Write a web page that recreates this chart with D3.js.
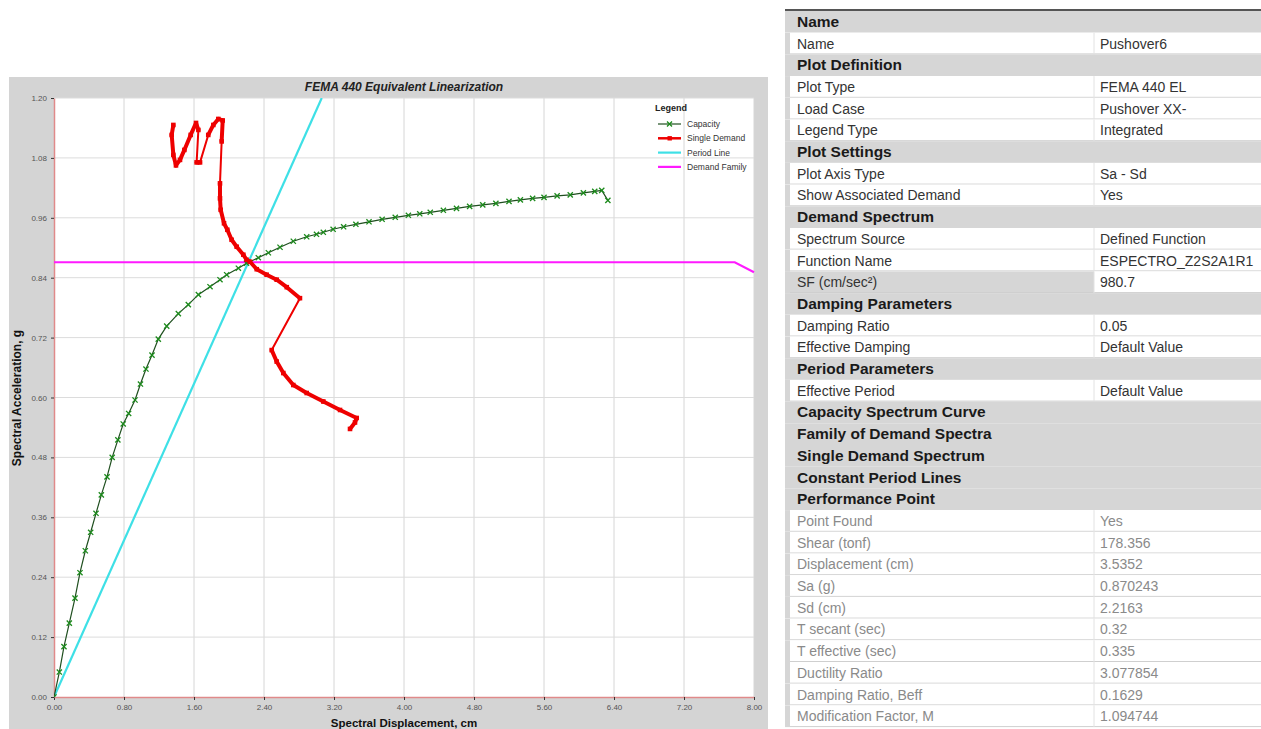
<!DOCTYPE html>
<html><head><meta charset="utf-8">
<script src="https://cdn.jsdelivr.net/npm/d3@7"></script>
<style>
html,body{margin:0;padding:0;background:#fff;}
svg{display:block;}
</style></head>
<body>
<svg id="c" width="1261" height="729"></svg>
<script>
// ---------------- DATA ----------------
const chartTitle = "FEMA 440 Equivalent Linearization";
const xAxisTitle = "Spectral Displacement, cm";
const yAxisTitle = "Spectral Acceleration, g";
const xTicks = [0, 0.8, 1.6, 2.4, 3.2, 4.0, 4.8, 5.6, 6.4, 7.2, 8.0];
const yTicks = [0, 0.12, 0.24, 0.36, 0.48, 0.60, 0.72, 0.84, 0.96, 1.08, 1.20];
const legendLabels = ["Capacity", "Single Demand", "Period Line", "Demand Family"];

const capacitySd = [0,0.061,0.114,0.175,0.240,0.297,0.358,0.419,0.480,0.541,0.606,0.665,0.730,0.791,0.853,0.926,0.988,1.051,1.120,1.192,1.288,1.421,1.535,1.650,1.783,1.897,1.973,2.107,2.200,2.335,2.450,2.583,2.735,2.888,3.000,3.078,3.190,3.310,3.450,3.600,3.750,3.900,4.050,4.180,4.300,4.450,4.600,4.750,4.900,5.050,5.200,5.330,5.470,5.600,5.750,5.900,6.050,6.180,6.260,6.330];
const capacitySa = [0,0.050,0.101,0.148,0.198,0.249,0.293,0.330,0.368,0.405,0.441,0.480,0.515,0.547,0.568,0.595,0.627,0.657,0.685,0.717,0.743,0.768,0.786,0.806,0.822,0.836,0.846,0.859,0.869,0.880,0.890,0.901,0.913,0.922,0.927,0.931,0.937,0.942,0.947,0.952,0.957,0.961,0.965,0.968,0.971,0.975,0.979,0.983,0.986,0.989,0.993,0.996,0.999,1.001,1.004,1.006,1.010,1.013,1.015,0.995];

const demandSd = [1.364,1.345,1.364,1.394,1.440,1.490,1.562,1.623,1.650,1.630,1.669,1.763,1.821,1.878,1.928,1.916,1.897,1.897,1.905,1.943,1.981,2.030,2.088,2.164,2.200,2.240,2.317,2.430,2.545,2.660,2.811,2.488,2.545,2.621,2.735,2.888,3.078,3.269,3.459,3.440,3.383];
const demandSa = [1.146,1.126,1.086,1.065,1.076,1.096,1.126,1.150,1.136,1.071,1.071,1.126,1.146,1.158,1.155,1.113,1.029,0.999,0.976,0.949,0.936,0.916,0.902,0.886,0.876,0.872,0.857,0.846,0.836,0.821,0.799,0.695,0.672,0.649,0.625,0.609,0.592,0.575,0.559,0.550,0.537];

const periodSd = [0, 3.06];
const periodSa = [0, 1.20];

const familySd = [0, 7.78, 8.0];
const familySa = [0.871, 0.871, 0.851];

// table: kind h = header, r = normal row, s = row with shaded label, d = disabled row
const tableKinds  = ["h","r","h","r","r","r","h","r","r","h","r","r","s","h","r","r","h","r","h","h","h","h","h","d","d","d","d","d","d","d","d","d","d"];
const tableLabels = ["Name","Name","Plot Definition","Plot Type","Load Case","Legend Type","Plot Settings","Plot Axis Type","Show Associated Demand","Demand Spectrum","Spectrum Source","Function Name","SF (cm/sec²)","Damping Parameters","Damping Ratio","Effective Damping","Period Parameters","Effective Period","Capacity Spectrum Curve","Family of Demand Spectra","Single Demand Spectrum","Constant Period Lines","Performance Point","Point Found","Shear (tonf)","Displacement (cm)","Sa (g)","Sd (cm)","T secant (sec)","T effective (sec)","Ductility Ratio","Damping Ratio, Beff","Modification Factor, M"];
const tableValues = ["","Pushover6","","FEMA 440 EL","Pushover XX-","Integrated","","Sa - Sd","Yes","","Defined Function","ESPECTRO_Z2S2A1R1","980.7","","0.05","Default Value","","Default Value","","","","","","Yes","178.356","3.5352","0.870243","2.2163","0.32","0.335","3.077854","0.1629","1.094744"];

// ---------------- DRAW ----------------
const svg = d3.select("#c");
const FONT = "'Liberation Sans', Arial, sans-serif";

// chart panel background
svg.append("rect").attr("x",9).attr("y",77).attr("width",759).attr("height",652).attr("fill","#d4d4d4");

const P = {l:54, r:754, t:98, b:697};
const x = d3.scaleLinear().domain([0,8]).range([P.l,P.r]);
const y = d3.scaleLinear().domain([0,1.2]).range([P.b,P.t]);

svg.append("rect").attr("x",P.l).attr("y",P.t).attr("width",P.r-P.l).attr("height",P.b-P.t).attr("fill","#ffffff");

// grid
const grid = svg.append("g");
grid.selectAll("line.vx").data(xTicks.slice(1)).join("line")
  .attr("x1",d=>x(d)).attr("x2",d=>x(d)).attr("y1",P.t).attr("y2",P.b)
  .attr("stroke","#d6d6d6").attr("stroke-width",1);
grid.selectAll("line.hy").data(yTicks.slice(1)).join("line")
  .attr("y1",d=>y(d)).attr("y2",d=>y(d)).attr("x1",P.l).attr("x2",P.r)
  .attr("stroke","#dcdcdc").attr("stroke-width",1);

// axes
const xAxis = d3.axisBottom(x).tickValues(xTicks).tickFormat(d3.format(".2f")).tickSize(3).tickSizeOuter(0);
const yAxis = d3.axisLeft(y).tickValues(yTicks).tickFormat(d3.format(".2f")).tickSize(3).tickSizeOuter(0);
const gx = svg.append("g").attr("transform",`translate(0,${P.b})`).call(xAxis);
const gy = svg.append("g").attr("transform",`translate(${P.l},0)`).call(yAxis);
[gx,gy].forEach(g=>{
  g.select(".domain").attr("stroke","#e08a8a").attr("stroke-width",1.5);
  g.selectAll(".tick line").attr("stroke","#333");
  g.selectAll(".tick text").attr("fill","#555").attr("font-family",FONT).attr("font-size",8);
});
gx.selectAll(".tick text").attr("dy","0.9em");
gy.selectAll(".tick text").attr("dx","-1");

// titles
svg.append("text").attr("x",404).attr("y",91).attr("text-anchor","middle")
  .attr("font-family",FONT).attr("font-size",12).attr("font-weight","bold").attr("font-style","italic")
  .attr("fill","#222").text(chartTitle);
svg.append("text").attr("x",404).attr("y",727).attr("text-anchor","middle")
  .attr("font-family",FONT).attr("font-size",11.5).attr("font-weight","bold").attr("fill","#111").text(xAxisTitle);
svg.append("text").attr("transform","translate(21,398) rotate(-90)").attr("text-anchor","middle")
  .attr("font-family",FONT).attr("font-size",12).attr("font-weight","bold").attr("fill","#111").text(yAxisTitle);

// clip
svg.append("clipPath").attr("id","clip").append("rect").attr("x",P.l).attr("y",P.t).attr("width",P.r-P.l+2).attr("height",P.b-P.t);
const plot = svg.append("g").attr("clip-path","url(#clip)");
const line = d3.line().x(d=>x(d[0])).y(d=>y(d[1]));

// period line
const periodPts = periodSd.map((d,i)=>[d,periodSa[i]]);
plot.append("path").attr("d",line(periodPts)).attr("fill","none").attr("stroke","#3ee0e6").attr("stroke-width",2.2);

// demand family
const famPts = familySd.map((d,i)=>[d,familySa[i]]);
plot.append("path").attr("d",line(famPts)).attr("fill","none").attr("stroke","#ff1aff").attr("stroke-width",2.2);

// capacity
const capPts = capacitySd.map((d,i)=>[d,capacitySa[i]]);
plot.append("path").attr("d",line(capPts)).attr("fill","none").attr("stroke","#1f4f1f").attr("stroke-width",1.2);
const xm = 2.6;
plot.append("g").selectAll("path").data(capPts).join("path")
  .attr("d",d=>{const cx=x(d[0]),cy=y(d[1]);return `M${cx-xm},${cy-xm}L${cx+xm},${cy+xm}M${cx-xm},${cy+xm}L${cx+xm},${cy-xm}`;})
  .attr("stroke","#1c8a1c").attr("stroke-width",1.3).attr("fill","none");

// single demand
const demPts = demandSd.map((d,i)=>[d,demandSa[i]]);
const segs = d3.pairs(demPts);
plot.append("g").selectAll("line").data(segs).join("line")
  .attr("x1",d=>x(d[0][0])).attr("y1",d=>y(d[0][1])).attr("x2",d=>x(d[1][0])).attr("y2",d=>y(d[1][1]))
  .attr("stroke","#ee0000")
  .attr("stroke-width",d=>{const dx=x(d[1][0])-x(d[0][0]),dy=y(d[1][1])-y(d[0][1]);return Math.hypot(dx,dy)<24?4:2;})
  .attr("stroke-linecap","round");
plot.append("g").selectAll("rect").data(demPts).join("rect")
  .attr("x",d=>x(d[0])-2.3).attr("y",d=>y(d[1])-2.3).attr("width",4.6).attr("height",4.6).attr("fill","#ee0000");

// legend
const lg = svg.append("g");
lg.append("text").attr("x",655).attr("y",111).attr("font-family",FONT).attr("font-size",9).attr("font-weight","bold").attr("fill","#222").text("Legend");
const legColors = ["#1f4f1f","#ee0000","#3ee0e6","#ff1aff"];
const legW = [1.2,2.5,2.2,2.2];
legendLabels.forEach((t,i)=>{
  const ly = 124 + i*14.3;
  lg.append("line").attr("x1",658).attr("x2",681).attr("y1",ly).attr("y2",ly).attr("stroke",legColors[i]).attr("stroke-width",legW[i]);
  if(i===0){
    lg.append("path").attr("d",`M${669.5-2.5},${ly-2.5}L${669.5+2.5},${ly+2.5}M${669.5-2.5},${ly+2.5}L${669.5+2.5},${ly-2.5}`).attr("stroke","#1c8a1c").attr("stroke-width",1.3);
  }
  if(i===1){
    lg.append("rect").attr("x",667.5).attr("y",ly-2.2).attr("width",4.4).attr("height",4.4).attr("fill","#ee0000");
  }
  lg.append("text").attr("x",687).attr("y",ly+3).attr("font-family",FONT).attr("font-size",8.5).attr("fill","#333").text(t);
});

// ---------------- TABLE ----------------
const T = {x:785, y:11, w:476, rh:21.7, split:1094};
const tb = svg.append("g");
tb.append("rect").attr("x",T.x).attr("y",T.y-2).attr("width",T.w).attr("height",2).attr("fill","#555");
tableLabels.forEach((lab,i)=>{
  const k = tableKinds[i];
  const ry = T.y + i*T.rh;
  if(k==="h"){
    tb.append("rect").attr("x",T.x).attr("y",ry).attr("width",T.w).attr("height",T.rh).attr("fill","#d6d6d6");
    tb.append("text").attr("x",T.x+12).attr("y",ry+T.rh/2+5).attr("font-family",FONT).attr("font-size",15.5)
      .attr("font-weight","bold").attr("fill","#1a1a1a").text(lab);
  } else {
    tb.append("rect").attr("x",T.x).attr("y",ry).attr("width",T.w).attr("height",T.rh).attr("fill","#ffffff");
    if(k==="s"){
      tb.append("rect").attr("x",T.x).attr("y",ry).attr("width",T.split-T.x).attr("height",T.rh).attr("fill","#d6d6d6");
    }
    tb.append("rect").attr("x",T.x).attr("y",ry).attr("width",5).attr("height",T.rh).attr("fill","#d6d6d6");
    tb.append("line").attr("x1",T.x+5).attr("x2",T.x+T.w).attr("y1",ry+T.rh-0.5).attr("y2",ry+T.rh-0.5).attr("stroke","#cfcfcf");
    tb.append("line").attr("x1",T.split).attr("x2",T.split).attr("y1",ry).attr("y2",ry+T.rh).attr("stroke","#e2e2e2");
    const col = k==="d" ? "#8a8a8a" : "#333";
    tb.append("text").attr("x",T.x+12).attr("y",ry+T.rh/2+5).attr("font-family",FONT).attr("font-size",14)
      .attr("fill",col).text(lab);
    tb.append("text").attr("x",T.split+6).attr("y",ry+T.rh/2+5).attr("font-family",FONT).attr("font-size",14)
      .attr("fill",col).text(tableValues[i]);
  }
});
</script>
</body></html>
